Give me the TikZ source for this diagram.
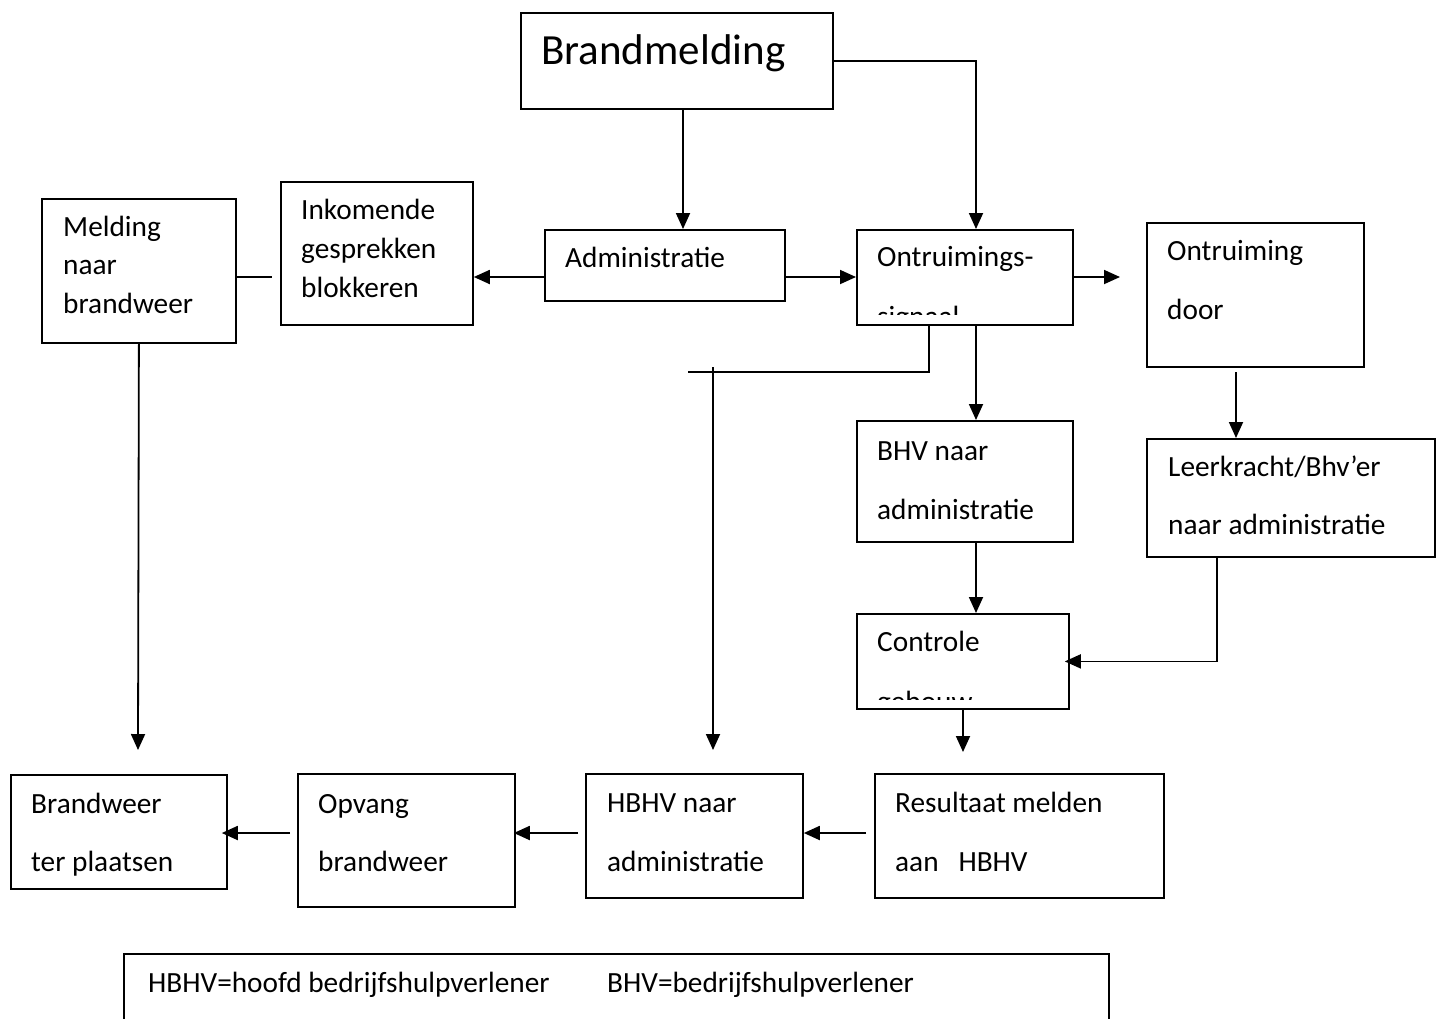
\documentclass[tikz,border=0pt]{standalone}
\usepackage{fontspec}
\setmainfont{Carlito}
\usetikzlibrary{arrows.meta}
\tikzset{
  box/.style={draw=black, line width=1.8pt, fill=none, inner sep=0pt, anchor=north west},
  txt/.style={inner sep=0pt, anchor=base west, font=\fontsize{29.3}{35}\selectfont},
  bigtxt/.style={inner sep=0pt, anchor=base west, font=\fontsize{43}{50}\selectfont},
  conn/.style={draw=black, line width=1.8pt},
  arr/.style={conn, -{Triangle[length=16pt,width=14pt]}}
}
\newcommand{\bx}[5]{\node[box, minimum width=#4pt-#2pt, minimum height=#5pt-#3pt] (#1) at (#2,#3) {};}
\begin{document}
\begin{tikzpicture}[x=1pt,y=-1pt]
\useasboundingbox (0,0) rectangle (1443,1018);
\path[clip] (0,0) rectangle (1443,1018);
\fill[white] (0,0) rectangle (1443,1018);

% boxes
\bx{bm}{520}{12}{832}{108}
\bx{adm}{544}{229}{784}{300}
\bx{ont}{856}{229}{1072}{324}
\bx{ink}{280}{181}{472}{324}
\bx{mel}{41}{198}{235}{342}
\bx{ontd}{1146}{222}{1363}{366}
\bx{lk}{1146}{438}{1434}{556}
\bx{bhv}{856}{420}{1072}{541}
\bx{ctl}{856}{613}{1068}{708}
\bx{bw}{10}{774}{226}{888}
\bx{opv}{297}{773}{514}{906}
\bx{hbhv}{585}{773}{802}{897}
\bx{res}{874}{773}{1163}{897}
\bx{leg}{123}{953}{1108}{1040}

% texts
\node[bigtxt] (tbm) at (541,64) {Brandmelding};
\node[txt] (tadm) at (565,267) {Administratie};
\node[txt] (tont1) at (877,266) {Ontruimings-};
\begin{scope}
\clip (857,230) rectangle (1071,314);
\node[txt] (tont2) at (877,326) {signaal};
\end{scope}
\node[txt] (tink1) at (301,219) {Inkomende};
\node[txt] (tink2) at (301,258) {gesprekken};
\node[txt] (tink3) at (301,297) {blokkeren};
\node[txt] (tmel1) at (63,236) {Melding};
\node[txt] (tmel2) at (63,274) {naar};
\node[txt] (tmel3) at (63,313) {brandweer};
\node[txt] (tontd1) at (1167,260) {Ontruiming};
\node[txt] (tontd2) at (1167,319) {door};
\node[txt] (tlk1) at (1168,476) {Leerkracht/Bhv’er};
\node[txt] (tlk2) at (1168,534) {naar administratie};
\node[txt] (tbhv1) at (877,460) {BHV naar};
\node[txt] (tbhv2) at (877,519) {administratie};
\node[txt] (tctl1) at (877,651) {Controle};
\begin{scope}
\clip (857,614) rectangle (1067,699);
\node[txt] (tctl2) at (877,711) {gebouw};
\end{scope}
\node[txt] (tbw1) at (31,813) {Brandweer};
\node[txt] (tbw2) at (31,871) {ter plaatsen};
\node[txt] (topv1) at (318,813) {Opvang};
\node[txt] (topv2) at (318,871) {brandweer};
\node[txt] (thb1) at (607,812) {HBHV naar};
\node[txt] (thb2) at (607,871) {administratie};
\node[txt] (tres1) at (895,812) {Resultaat melden};
\node[txt] (tres2) at (895,871) {aan\ \ \ HBHV};
\node[txt] (tleg1) at (148,992) {HBHV=hoofd bedrijfshulpverlener};
\node[txt] (tleg2) at (607,992) {BHV=bedrijfshulpverlener};

% helper coordinates
\coordinate (x683) at (683,0);
\coordinate (x976) at (976,0);
\coordinate (x929) at (929,0);
\coordinate (x1217) at (1217,0);
\coordinate (y277) at (0,277);
\coordinate (y833) at (0,833);
\coordinate (g1) at (272,277);
\coordinate (t1) at (138,750);
\coordinate (t2) at (1120,277);
\coordinate (e1) at (688,372);
\coordinate (s3) at (713,367);
\coordinate (t3) at (713,750);
\coordinate (s4) at (1236,372);
\coordinate (t5) at (963,752);

% connectors
\draw[arr] (bm.south -| x683) -- (adm.north -| x683);
\draw[arr] (bm.east) -| (ont.north -| x976);
\draw[arr] (adm.east |- y277) -- (ont.west |- y277);
\draw[arr] (adm.west |- y277) -- (ink.east |- y277);
\draw[conn] (mel.east |- y277) -- (g1);
\draw[arr] (mel.south) -- (t1);
\draw[arr] (ont.east |- y277) -- (t2);
\draw[arr] (ont.south -| x976) -- (bhv.north -| x976);
\draw[conn] (ont.south -| x929) |- (e1);
\draw[arr] (s3) -- (t3);
\draw[arr] (s4) -- (lk.north -| s4);
\draw[arr, shorten >=-5pt] (lk.south -| x1217) |- (ctl.east);
\draw[arr] (bhv.south -| x976) -- (ctl.north -| x976);
\draw[arr] (ctl.south -| t5) -- (t5);
\draw[arr, shorten <=8pt] (res.west |- y833) -- (hbhv.east |- y833);
\draw[arr, shorten <=7pt, shorten >=-2pt] (hbhv.west |- y833) -- (opv.east |- y833);
\draw[arr, shorten <=7pt, shorten >=-6pt] (opv.west |- y833) -- (bw.east |- y833);
\end{tikzpicture}
\end{document}
